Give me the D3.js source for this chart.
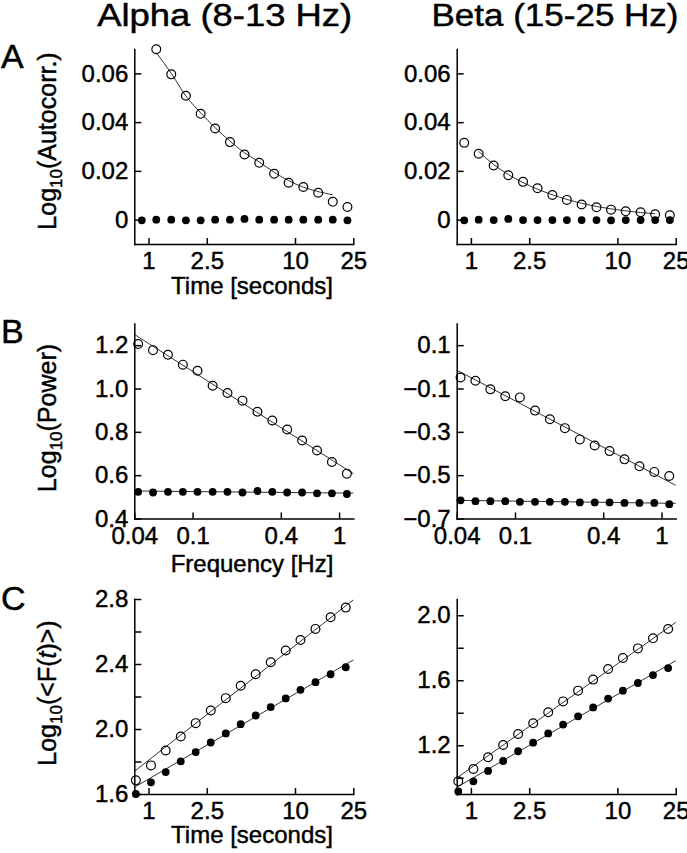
<!DOCTYPE html>
<meta charset="utf-8">
<head>
<style>
  body { margin: 0; background: #fff; }
  svg text { font-family: "Liberation Sans", Arial, Helvetica, sans-serif; fill: #000; stroke: #000; stroke-width: 0.45px; }
  .axis path, .axis line { stroke: #000; stroke-width: 1.5; }
  .axis text { font-size: 24px; }
  .fit { fill: none; stroke: #333; stroke-width: 1; }
</style>
</head>
<body>
<svg id="fig" width="687" height="853"></svg>
<script src="https://cdn.jsdelivr.net/npm/d3@7"></script>
<script>

// sample positions (time in s, frequency in Hz)
var timeA = [0.9, 1.13, 1.43, 1.8, 2.27, 2.85, 3.6, 4.52, 5.7, 7.2, 9.05, 11.4, 14.4, 18.1, 22.8]
var freqB = [0.0425, 0.0537, 0.0679, 0.0858, 0.108, 0.137, 0.173, 0.219, 0.277, 0.35, 0.442, 0.559, 0.707, 0.893, 1.13]
var timeC = [0.82, 1.04, 1.31, 1.66, 2.1, 2.66, 3.37, 4.26, 5.39, 6.83, 8.64, 10.9, 13.8, 17.5, 22.2]

// A: log10 autocorrelation (open = original, filled = shuffled)
var alphaAutoOpen   = [null, 0.0699, 0.0596, 0.0508, 0.0434, 0.0374, 0.0318, 0.0267, 0.0233, 0.0188, 0.0151, 0.0134, 0.0110, 0.0073, 0.0052]
var alphaAutoFit    = [null, 0.0685, 0.0600, 0.0507, 0.0438, 0.0377, 0.0322, 0.0274, 0.0237, 0.0194, 0.0160, 0.0133, 0.0115, 0.0102, null]
var alphaAutoFilled = [-0.0003, 0, 0, -0.0003, -0.0003, 0, 0, 0.0003, 0, 0, 0, 0, 0, 0, -0.0003]
var betaAutoOpen    = [0.0315, 0.0270, 0.0222, 0.0182, 0.0155, 0.0129, 0.0101, 0.0081, 0.0062, 0.0051, 0.0041, 0.0034, 0.0030, 0.0022, 0.0018]
var betaAutoFit     = [null, 0.0280, 0.0226, 0.0185, 0.0152, 0.0125, 0.0102, 0.0083, 0.0067, 0.0054, 0.0044, 0.0036, 0.0029, 0.0024, null]
var betaAutoFilled  = [-0.0003, 0, -0.0002, 0.0003, -0.0002, -0.0002, -0.0002, -0.0002, -0.0002, -0.0002, -0.0003, -0.0002, -0.0002, -0.0002, -0.0002]

// B: log10 power
var alphaPowOpen   = [1.205, 1.177, 1.156, 1.110, 1.082, 1.013, 0.979, 0.944, 0.893, 0.852, 0.811, 0.760, 0.714, 0.661, 0.607]
var alphaPowFilled = [0.523, 0.520, 0.523, 0.523, 0.523, 0.523, 0.523, 0.520, 0.527, 0.523, 0.520, 0.520, 0.516, 0.516, 0.513]
var betaPowOpen    = [-0.049, -0.064, -0.104, -0.136, -0.141, -0.202, -0.242, -0.283, -0.335, -0.363, -0.389, -0.427, -0.459, -0.485, -0.504]
var betaPowFilled  = [-0.616, -0.620, -0.620, -0.620, -0.623, -0.623, -0.623, -0.623, -0.626, -0.626, -0.626, -0.628, -0.628, -0.628, -0.634]
// straight fits, value at the two ends of the frequency axis
var powFitEnds        = [0.04, 1.25]
var alphaPowFitOpen   = [1.25, 0.607]
var alphaPowFitFilled = [0.527, 0.517]
var betaPowFitOpen    = [-0.015, -0.547]
var betaPowFitFilled  = [-0.616, -0.630]

// C: log10 <F(t)>
var alphaFlucOpen   = [1.684, 1.776, 1.868, 1.954, 2.036, 2.114, 2.190, 2.266, 2.337, 2.411, 2.483, 2.548, 2.616, 2.688, 2.747]
var alphaFlucFilled = [1.600, 1.672, 1.735, 1.801, 1.858, 1.917, 1.973, 2.030, 2.083, 2.135, 2.188, 2.241, 2.288, 2.337, 2.380]
var betaFlucOpen    = [0.978, 1.054, 1.126, 1.202, 1.269, 1.335, 1.403, 1.470, 1.536, 1.604, 1.669, 1.737, 1.796, 1.858, 1.915]
var betaFlucFilled  = [0.916, 0.978, 1.042, 1.103, 1.163, 1.216, 1.273, 1.327, 1.378, 1.433, 1.487, 1.536, 1.583, 1.632, 1.675]
var flucFitEnds        = [0.8, 25]
var alphaFlucFitOpen   = [1.739, 2.794]
var alphaFlucFitFilled = [1.641, 2.425]
var betaFlucFitOpen    = [0.998, 1.956]
var betaFlucFitFilled  = [0.941, 1.720]

// ticks
var timeTicks = [1, 2.5, 10, 25]
var freqTicks = [0.04, 0.1, 0.4, 1]
var autoTicks = [0, 0.02, 0.04, 0.06]
var alphaPowTicks = [0.4, 0.6, 0.8, 1.0, 1.2]
var betaPowTicks = [-0.7, -0.5, -0.3, -0.1, 0.1]
var alphaFlucTicks = [1.6, 1.8, 2.0, 2.2, 2.4, 2.6, 2.8]
var alphaFlucLabels = [1.6, 2.0, 2.4, 2.8]
var betaFlucTicks = [1.0, 1.2, 1.4, 1.6, 1.8, 2.0]
var betaFlucLabels = [1.2, 1.6, 2.0]

var svg = d3.select("#fig")
var W = 219, H = 195
var colX = [134.3, 456.7]
var rowY = [49, 323.5, 599]

function panel(o) {
  var g = svg.append("g").attr("transform", "translate(" + o.x + "," + o.y + ")")
  var x = d3.scaleLog().domain(o.xDomain).range([0, W])
  var y = d3.scaleLinear().domain(o.yDomain).range([H, 0])

  g.append("g").attr("class", "axis").attr("transform", "translate(0," + H + ")")
    .call(d3.axisBottom(x).tickValues(o.xTicks).tickSize(-6).tickSizeOuter(0).tickPadding(8)
      .tickFormat(function(d){ return String(d) }))
  g.append("g").attr("class", "axis")
    .call(d3.axisLeft(y).tickValues(o.yTicks).tickSize(-7).tickSizeOuter(0).tickPadding(6)
      .tickFormat(o.yFormat))
  g.selectAll(".axis .domain").attr("stroke-linecap", "square")
  g.selectAll(".axis text").attr("fill", "#000")

  var line = d3.line()
    .defined(function(d){ return d[1] != null })
    .x(function(d){ return x(d[0]) })
    .y(function(d){ return y(d[1]) })
    .curve(d3.curveMonotoneX)

  o.fits.forEach(function(f) {
    g.append("path").attr("class", "fit")
      .attr("d", line(d3.zip(f.xs, f.ys)))
  })

  var open = d3.zip(o.xs, o.open).filter(function(d){ return d[1] != null })
  g.selectAll(".open").data(open).enter().append("circle")
    .attr("cx", function(d){ return x(d[0]) })
    .attr("cy", function(d){ return y(d[1]) })
    .attr("r", 4.4)
    .attr("fill", "none")
    .attr("stroke", "#000")
    .attr("stroke-width", 1.2)

  g.selectAll(".filled").data(d3.zip(o.xs, o.filled)).enter().append("circle")
    .attr("cx", function(d){ return x(d[0]) })
    .attr("cy", function(d){ return y(d[1]) })
    .attr("r", 3.9)
    .attr("fill", "#000")
}

function fmtAuto(d) { return d === 0 ? "0" : d3.format(".2f")(d) }
function fmt1(d) { return d3.format(".1f")(d) }
function only(list) {
  return function(d) {
    return list.some(function(v){ return Math.abs(v - d) < 1e-9 }) ? d3.format(".1f")(d) : ""
  }
}

// row A
panel({ x: colX[0], y: rowY[0], xDomain: [0.8, 25], yDomain: [-0.01, 0.07],
  xTicks: timeTicks, yTicks: autoTicks, yFormat: fmtAuto, xs: timeA,
  open: alphaAutoOpen, filled: alphaAutoFilled,
  fits: [{ xs: timeA, ys: alphaAutoFit }] })
panel({ x: colX[1], y: rowY[0], xDomain: [0.8, 25], yDomain: [-0.01, 0.07],
  xTicks: timeTicks, yTicks: autoTicks, yFormat: fmtAuto, xs: timeA,
  open: betaAutoOpen, filled: betaAutoFilled,
  fits: [{ xs: timeA, ys: betaAutoFit }] })

// row B
panel({ x: colX[0], y: rowY[1], xDomain: [0.04, 1.25], yDomain: [0.4, 1.3],
  xTicks: freqTicks, yTicks: alphaPowTicks, yFormat: fmt1, xs: freqB,
  open: alphaPowOpen, filled: alphaPowFilled,
  fits: [{ xs: powFitEnds, ys: alphaPowFitOpen }, { xs: powFitEnds, ys: alphaPowFitFilled }] })
panel({ x: colX[1], y: rowY[1], xDomain: [0.04, 1.25], yDomain: [-0.7, 0.2],
  xTicks: freqTicks, yTicks: betaPowTicks, yFormat: fmt1, xs: freqB,
  open: betaPowOpen, filled: betaPowFilled,
  fits: [{ xs: powFitEnds, ys: betaPowFitOpen }, { xs: powFitEnds, ys: betaPowFitFilled }] })

// row C
panel({ x: colX[0], y: rowY[2], xDomain: [0.8, 25], yDomain: [1.6, 2.8],
  xTicks: timeTicks, yTicks: alphaFlucTicks, yFormat: only(alphaFlucLabels), xs: timeC,
  open: alphaFlucOpen, filled: alphaFlucFilled,
  fits: [{ xs: flucFitEnds, ys: alphaFlucFitOpen }, { xs: flucFitEnds, ys: alphaFlucFitFilled }] })
panel({ x: colX[1], y: rowY[2], xDomain: [0.8, 25], yDomain: [0.9, 2.1],
  xTicks: timeTicks, yTicks: betaFlucTicks, yFormat: only(betaFlucLabels), xs: timeC,
  open: betaFlucOpen, filled: betaFlucFilled,
  fits: [{ xs: flucFitEnds, ys: betaFlucFitOpen }, { xs: flucFitEnds, ys: betaFlucFitFilled }] })

// column titles
svg.append("text").attr("x", 224.7).attr("y", 26).attr("text-anchor", "middle")
  .attr("font-size", 31).attr("textLength", 255).attr("lengthAdjust", "spacingAndGlyphs")
  .text("Alpha (8-13 Hz)")
svg.append("text").attr("x", 555).attr("y", 26).attr("text-anchor", "middle")
  .attr("font-size", 31).attr("textLength", 247).attr("lengthAdjust", "spacingAndGlyphs")
  .text("Beta (15-25 Hz)")

// panel letters
var letters = [["A", 68], ["B", 343], ["C", 610]]
letters.forEach(function(l) {
  svg.append("text").attr("x", 1).attr("y", l[1]).attr("font-size", 34).text(l[0])
})

// y labels
function ylab(cy, rest, italicT) {
  var t = svg.append("text").attr("transform", "translate(56," + cy + ") rotate(-90)")
    .attr("text-anchor", "middle").attr("font-size", 25)
  t.append("tspan").text("Log")
  t.append("tspan").attr("font-size", 17).attr("dy", 6).text("10")
  if (italicT) {
    t.append("tspan").attr("dy", -6).text("(<F(")
    t.append("tspan").attr("font-style", "italic").text("t")
    t.append("tspan").text(")>)")
  } else {
    t.append("tspan").attr("dy", -6).text(rest)
  }
}
ylab(141, "(Autocorr.)")
ylab(418, "(Power)")
ylab(693, null, true)

// x labels
var xlabs = [["Time [seconds]", 294], ["Frequency [Hz]", 572], ["Time [seconds]", 843]]
xlabs.forEach(function(l) {
  svg.append("text").attr("x", 252).attr("y", l[1]).attr("text-anchor", "middle")
    .attr("font-size", 24).text(l[0])
})

</script>
</body>
